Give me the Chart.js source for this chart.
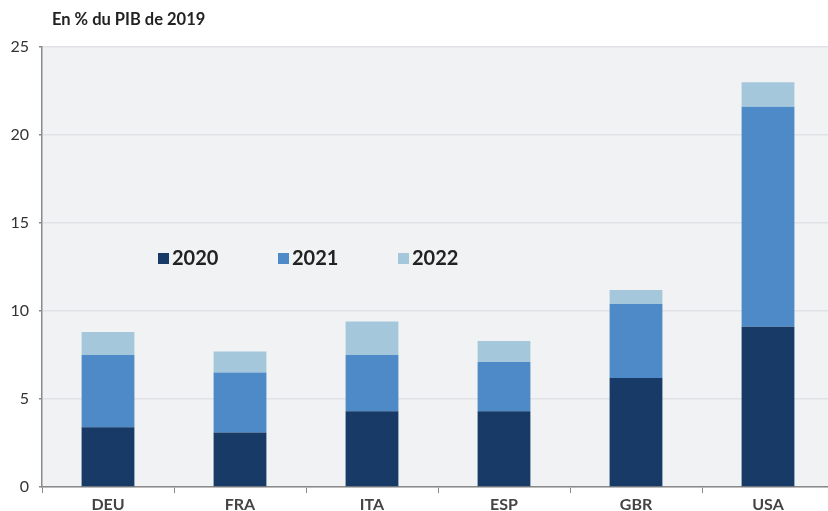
<!DOCTYPE html>
<html>
<head>
<meta charset="utf-8">
<script src="https://cdn.jsdelivr.net/npm/chart.js@4"></script>
<style>
  html, body { margin: 0; padding: 0; background: #ffffff; overflow: hidden; }
  #wrap { width: 828px; height: 511px; overflow: hidden; }
  canvas { display: block; }
</style>
</head>
<body>
<div id="wrap"><canvas id="chart" width="834" height="511"></canvas></div>
<script>
// valeurs en % du PIB de 2019
const countries = ['DEU', 'FRA', 'ITA', 'ESP', 'GBR', 'USA'];
const years = ['2020', '2021', '2022'];
const values2020 = [3.4, 3.1, 4.3, 4.3, 6.2, 9.1];
const values2021 = [4.1, 3.4, 3.2, 2.8, 4.2, 12.5];
const values2022 = [1.3, 1.2, 1.9, 1.2, 0.8, 1.4];
const yTicks = [0, 5, 10, 15, 20, 25];

const colors = ['#173a66', '#4f8ac8', '#a5c7dc'];
const fontFamily = 'Lato, "Open Sans", sans-serif';

const plotBackground = {
  id: 'plotBackground',
  beforeDraw(chart) {
    const {ctx, chartArea} = chart;
    ctx.save();
    ctx.fillStyle = '#f1f2f4';
    ctx.fillRect(chartArea.left, chartArea.top, chartArea.right - chartArea.left, chartArea.bottom - chartArea.top);
    ctx.restore();
  }
};

const titleAndLegend = {
  id: 'titleAndLegend',
  afterDraw(chart) {
    const {ctx} = chart;
    ctx.save();
    ctx.fillStyle = '#222222';
    ctx.textBaseline = 'middle';
    ctx.font = `bold 16.5px ${fontFamily}`;
    ctx.fillText('En % du PIB de 2019', 52, 20);

    const xs = [158, 278, 398];
    years.forEach((year, i) => {
      ctx.fillStyle = colors[i];
      ctx.fillRect(xs[i], 253, 11, 11);
      ctx.fillStyle = '#222222';
      ctx.font = `bold 20px ${fontFamily}`;
      ctx.fillText(year, xs[i] + 14, 259);
    });
    ctx.restore();
  }
};

new Chart(document.getElementById('chart'), {
  type: 'bar',
  data: {
    labels: countries,
    datasets: [
      {label: years[0], data: values2020, backgroundColor: colors[0]},
      {label: years[1], data: values2021, backgroundColor: colors[1]},
      {label: years[2], data: values2022, backgroundColor: colors[2]}
    ]
  },
  options: {
    responsive: false,
    animation: false,
    layout: {padding: {top: 47, right: 0, bottom: 0, left: 0}},
    datasets: {bar: {barPercentage: 0.4, categoryPercentage: 1}},
    plugins: {
      legend: {display: false},
      tooltip: {enabled: false}
    },
    scales: {
      x: {
        stacked: true,
        afterFit(scale) { scale.height = 24; },
        border: {color: '#8a8a8a', width: 1.5},
        grid: {offset: true, drawOnChartArea: false, tickLength: 6, color: '#8a8a8a', lineWidth: 1},
        ticks: {color: '#444444', padding: 2, font: {family: fontFamily, size: 16, weight: 'bold'}}
      },
      y: {
        stacked: true,
        min: 0,
        max: 25,
        afterFit(scale) { scale.width = 42; },
        afterBuildTicks(scale) { scale.ticks = yTicks.map((v) => ({value: v})); },
        border: {color: '#8a8a8a', width: 1.5},
        grid: {color: '#e1e2e5', lineWidth: 1.5, tickLength: 3, tickColor: '#8a8a8a'},
        ticks: {color: '#333333', padding: 10, font: {family: fontFamily, size: 16}}
      }
    }
  },
  plugins: [plotBackground, titleAndLegend]
});
</script>
</body>
</html>
